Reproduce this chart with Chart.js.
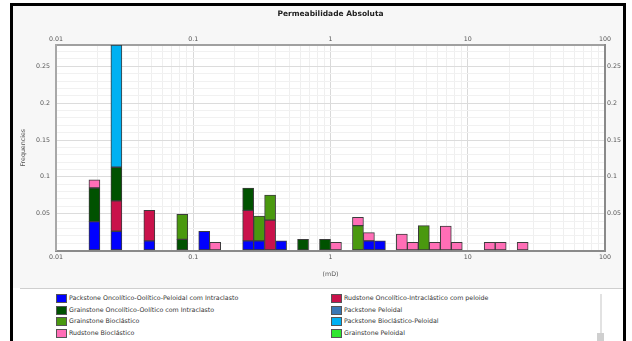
<!DOCTYPE html>
<html>
<head>
<meta charset="utf-8">
<script src="https://cdn.jsdelivr.net/npm/chart.js@4.4.0/dist/chart.umd.min.js"></script>
<style>
  html, body { margin:0; padding:0; width:632px; height:341px; overflow:hidden; background:#fff;
    font-family:"DejaVu Sans", sans-serif; }
  #frame { position:absolute; left:10px; top:3px; width:610px; height:345px;
    border:3px solid #000; border-bottom:none; background:#f7f7f7; }
  #chartBox { position:absolute; left:0; top:0; width:610px; height:280px; }
  #legendArea { position:absolute; left:0; top:282px; width:610px; height:70px; background:#fff; }
  #sep { position:absolute; left:7px; top:282px; width:603px; height:1px; background:#cfcfcf; }
  .lg { position:absolute; height:10px; line-height:10px; font-size:6.3px; color:#333; white-space:nowrap; }
  .sw { position:absolute; left:0; top:1px; width:9px; height:7px; border:1px solid #555; }
  .lg span.t { position:absolute; left:13px; top:0; }
  #scroll { position:absolute; left:587px; top:288px; width:2px; height:50px; background:#e2e2e2; }
  #thumb { position:absolute; left:584px; top:327px; width:7px; height:8px; background:#cfcfcf; }
</style>
</head>
<body>
<div id="frame">
  <div id="chartBox"><canvas id="chart"></canvas></div>
  <div id="legendArea"></div>
  <div id="sep"></div>
  <div id="scroll"></div>
  <div id="thumb"></div>
</div>
<script>
// bin centres (mD)
const binCenters = [0.01905, 0.02754, 0.04786, 0.08318, 0.1202, 0.1445, 0.2512, 0.3020, 0.3631, 0.4365,
                    0.6310, 0.9120, 1.096, 1.585, 1.905, 2.291, 3.311, 3.981, 4.786, 5.754,
                    6.918, 8.318, 14.45, 17.38, 25.12];

const packOOP   = [0.0392, 0.0261, 0.0131, 0, 0.0261, 0, 0.0131, 0.0131, 0, 0.0131,
                   0, 0, 0, 0, 0.0131, 0.0131, 0, 0, 0, 0, 0, 0, 0, 0, 0];
const rudOI     = [0, 0.0413, 0.0413, 0, 0, 0, 0.0413, 0, 0.0413, 0,
                   0, 0, 0, 0, 0, 0, 0, 0, 0, 0, 0, 0, 0, 0, 0];
const grainOO   = [0.0456, 0.0456, 0, 0.0152, 0, 0, 0.0304, 0, 0, 0,
                   0.0152, 0.0152, 0, 0, 0, 0, 0, 0, 0, 0, 0, 0, 0, 0, 0];
const packPel   = [0, 0, 0, 0, 0, 0, 0, 0, 0, 0, 0, 0, 0, 0, 0, 0, 0, 0, 0, 0, 0, 0, 0, 0, 0];
const grainBio  = [0, 0, 0, 0.0338, 0, 0, 0, 0.0338, 0.0338, 0,
                   0, 0, 0, 0.0338, 0, 0, 0, 0, 0.0338, 0, 0, 0, 0, 0, 0];
const packBioP  = [0, 0.166, 0, 0, 0, 0, 0, 0, 0, 0, 0, 0, 0, 0, 0, 0, 0, 0, 0, 0, 0, 0, 0, 0, 0];
const rudBio    = [0.0111, 0, 0, 0, 0, 0.0111, 0, 0, 0, 0,
                   0, 0, 0.0111, 0.0111, 0.0111, 0, 0.0222, 0.0111, 0, 0.0111,
                   0.0333, 0.0111, 0.0111, 0.0111, 0.0111];
const grainPel  = [0, 0, 0, 0, 0, 0, 0, 0, 0, 0, 0, 0, 0, 0, 0, 0, 0, 0, 0, 0, 0, 0, 0, 0, 0];

const seriesNames = [
  "Packstone Oncolítico-Oolítico-Peloidal com Intraclasto",
  "Rudstone Oncolítico-Intraclástico com peloide",
  "Grainstone Oncolítico-Oolítico com Intraclasto",
  "Packstone Peloidal",
  "Grainstone Bioclástico",
  "Packstone Bioclástico-Peloidal",
  "Rudstone Bioclástico",
  "Grainstone Peloidal",
];
const seriesValues = [packOOP, rudOI, grainOO, packPel, grainBio, packBioP, rudBio, grainPel];
const seriesColors = ["#0000ff", "#c9124b", "#005200", "#3a78b5", "#4a990f", "#00b1f2", "#ff6eb6", "#2ee52e"];

const xTickLabels = ["0.01", "0.1", "1", "10", "100"];
const yTickLabels = ["0.05", "0.1", "0.15", "0.2", "0.25"];
const yMax = 0.279;

const FONT = "DejaVu Sans";
const tickFont = { family: FONT, size: 6.3 };

// log grid: 1..9 x 10^e
function logTicks(scale) {
  const t = [];
  for (let e = -2; e < 2; e++) for (let s = 1; s < 10; s++) t.push({ value: +(s * Math.pow(10, e)).toPrecision(3) });
  t.push({ value: 100 });
  scale.ticks = t;
}
function yTicks(scale) {
  const t = [];
  for (let i = 0; i <= 27; i++) t.push({ value: +(i * 0.01).toFixed(2) });
  scale.ticks = t;
}
const xLabel = v => xTickLabels.includes(String(v)) ? String(v) : "";
const yLabel = v => yTickLabels.includes(String(v)) ? String(v) : "";
const isDecade = v => xTickLabels.includes(String(v));
const isMajorY = v => yTickLabels.includes(String(v));

const datasets = seriesNames.map((name, i) => ({
  label: name,
  data: binCenters.map((x, j) => ({ x, y: seriesValues[i][j] || null })),
  backgroundColor: seriesColors[i],
  borderColor: "#3c3c3c",
  borderWidth: 1,
  borderSkipped: false,
  barThickness: 11,
}));

const plotBg = {
  id: "plotBg",
  beforeDraw(chart) {
    const { ctx, chartArea: a } = chart;
    ctx.save();
    ctx.fillStyle = "#fff";
    ctx.fillRect(a.left, a.top, a.right - a.left, a.bottom - a.top);
    ctx.restore();
  },
};

new Chart(document.getElementById("chart"), {
  type: "bar",
  data: { datasets },
  plugins: [plotBg],
  options: {
    responsive: true,
    maintainAspectRatio: false,
    animation: false,
    layout: { padding: 0 },
    plugins: {
      legend: { display: false },
      tooltip: { enabled: false },
      title: {
        display: true, text: "Permeabilidade Absoluta", fullSize: false,
        color: "#222", font: { family: FONT, size: 7.5, weight: "bold" },
        padding: { top: 4, bottom: 0 },
      },
    },
    scales: {
      x: {
        type: "logarithmic", position: "bottom", min: 0.01, max: 100, stacked: true, offset: false,
        afterBuildTicks: logTicks,
        afterFit: s => { s.height = 35.5; },
        ticks: { callback: xLabel, font: tickFont, color: "#555", padding: 3, maxRotation: 0, autoSkip: false },
        grid: { offset: false, drawTicks: false, color: c => isDecade(c.tick && c.tick.value) ? "#d9d9d9" : "#efefef" },
        border: { display: true, color: "#8a8a8a", width: 2 },
        title: { display: true, text: "(mD)", color: "#555", font: tickFont, padding: { top: 0, bottom: 8 } },
      },
      x2: {
        type: "logarithmic", position: "top", min: 0.01, max: 100, offset: false,
        afterBuildTicks: logTicks,
        afterFit: s => { s.height = 26; },
        ticks: { callback: xLabel, font: tickFont, color: "#555", padding: 2, maxRotation: 0, autoSkip: false },
        grid: { display: false, offset: false, drawTicks: false },
        border: { display: true, color: "#a0a0a0", width: 2 },
      },
      y: {
        position: "left", min: 0, max: yMax, stacked: true,
        afterBuildTicks: yTicks,
        afterFit: s => { s.width = 43; },
        ticks: { callback: yLabel, font: tickFont, color: "#555", padding: 6, autoSkip: false },
        grid: { drawTicks: false, color: c => isMajorY(c.tick && c.tick.value) ? "#dcdcdc" : "#f1f1f1" },
        border: { display: true, color: "#a8a8a8", width: 2 },
        title: { display: true, text: "Frequencies", color: "#555", font: tickFont, padding: { top: 7, bottom: 0 } },
      },
      y2: {
        position: "right", min: 0, max: yMax,
        afterBuildTicks: yTicks,
        afterFit: s => { s.width = 18; },
        ticks: { callback: yLabel, font: tickFont, color: "#555", padding: 2, autoSkip: false },
        grid: { display: false, drawTicks: false },
        border: { display: true, color: "#8a8a8a", width: 2 },
      },
    },
  },
});

// legend, two columns, row-major
const legendArea = document.getElementById("legendArea");
seriesNames.forEach((name, i) => {
  const col = i % 2, row = Math.floor(i / 2);
  const el = document.createElement("div");
  el.className = "lg";
  el.style.left = (col ? 318 : 43) + "px";
  el.style.top = (5 + row * 11.5) + "px";
  el.innerHTML = `<div class="sw" style="background:${seriesColors[i]}"></div><span class="t">${name}</span>`;
  legendArea.appendChild(el);
});
</script>
</body>
</html>
